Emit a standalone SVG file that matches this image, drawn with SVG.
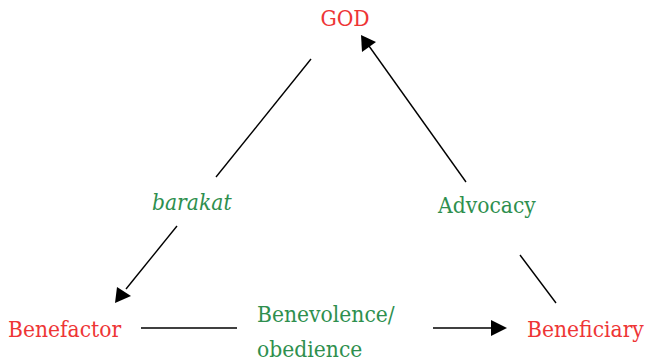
<svg xmlns="http://www.w3.org/2000/svg" width="648" height="362" viewBox="0 0 648 362">
<defs>
<style>
.node{font-family:"DejaVu Serif Condensed","DejaVu Serif",serif;font-stretch:condensed;font-size:22.6px;fill:#ee3535}
.lbl{font-family:"DejaVu Serif Condensed","DejaVu Serif",serif;font-stretch:condensed;font-size:22.6px;fill:#2e8f4e}
.it{font-style:italic}
.ln{stroke:#000;stroke-width:1.4;fill:none}
</style>
</defs>
<rect width="648" height="362" fill="#fff"/>
<g id="connectors">
<line class="ln" x1="311" y1="59" x2="216" y2="177"/>
<path class="ln" d="M177,226 L126,289"/>
<path d="M115,303 L117,287 L131,296 z" fill="#000"/>
<path class="ln" d="M466,182 L369,46"/>
<path d="M361,35 L362,52 L376,42 z" fill="#000"/>
<line class="ln" x1="141" y1="328" x2="237" y2="328"/>
<line class="ln" x1="433" y1="328" x2="492" y2="328"/>
<path d="M507,328 L491,320 L491,336 z" fill="#000"/>
<line class="ln" x1="520" y1="255" x2="556" y2="303"/>
</g>
<g id="god"><text class="node" x="345" y="26" text-anchor="middle">GOD</text></g>
<g id="benefactor"><text class="node" x="8" y="337">Benefactor</text></g>
<g id="beneficiary"><text class="node" x="527" y="337">Beneficiary</text></g>
<g id="barakat"><text class="lbl it" x="152" y="210">barakat</text></g>
<g id="advocacy"><text class="lbl" x="438" y="213">Advocacy</text></g>
<g id="benevolence"><text class="lbl" x="257" y="322">Benevolence/</text><text class="lbl" x="257" y="357">obedience</text></g>
</svg>
